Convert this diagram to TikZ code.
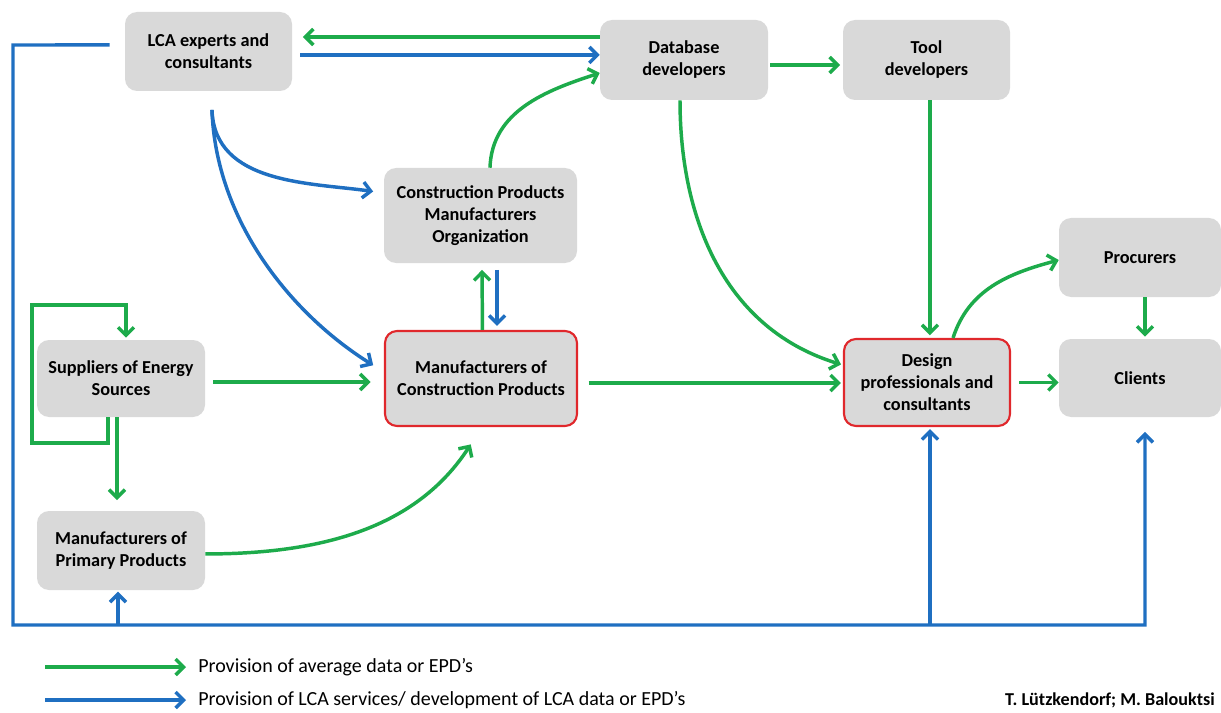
\documentclass[tikz,border=0pt]{standalone}
\usepackage{fontspec}
\setmainfont{Carlito}
\usetikzlibrary{arrows.meta}
\definecolor{flowgreen}{HTML}{1DAB4B}
\definecolor{flowblue}{HTML}{1F6FC1}
\definecolor{boxgray}{HTML}{D9D9D9}
\definecolor{keyred}{HTML}{E0282C}
\tikzset{
  box/.style={fill=boxgray, rounded corners=9pt, align=center, inner sep=0pt,
              font=\fontsize{13.7pt}{16.5pt}\selectfont\bfseries},
  keybox/.style={box, draw=keyred, line width=1.6pt},
  flow/.style={line width=2.6pt, line join=round},
  g/.style={flow, draw=flowgreen},
  b/.style={flow, draw=flowblue},
  arr/.style={-{Straight Barb[length=6pt,width=12pt]}},
  legendtext/.style={anchor=west, inner sep=0pt, font=\fontsize{15pt}{18pt}\selectfont}
}
\begin{document}
\begin{tikzpicture}[x=0.75pt, y=-0.75pt]
\useasboundingbox (0,0) rectangle (1221,713);

% actors
\node[box, minimum width=167*0.75pt, minimum height=79*0.75pt] (lca) at (208.5,51.5) {LCA experts and\\consultants};
\node[box, minimum width=168*0.75pt, minimum height=80*0.75pt] (db) at (684,60) {Database\\developers};
\node[box, minimum width=167*0.75pt, minimum height=80*0.75pt] (tool) at (926.5,60) {Tool\\developers};
\node[box, minimum width=193*0.75pt, minimum height=95*0.75pt] (cpmo) at (480.5,215.5) {Construction Products\\Manufacturers\\Organization};
\node[box, minimum width=168*0.75pt, minimum height=77*0.75pt] (sup) at (121,378.5) {Suppliers of Energy\\Sources};
\node[keybox, minimum width=192*0.75pt, minimum height=95*0.75pt] (mcp) at (481,378.5) {Manufacturers of\\Construction Products};
\node[box, minimum width=168*0.75pt, minimum height=79*0.75pt] (prim) at (121,550.5) {Manufacturers of\\Primary Products};
\node[keybox, minimum width=166*0.75pt, minimum height=87*0.75pt] (des) at (927,382.5) {Design\\professionals and\\consultants};
\node[box, minimum width=162*0.75pt, minimum height=79*0.75pt] (proc) at (1140,257.5) {Procurers};
\node[box, minimum width=162*0.75pt, minimum height=78*0.75pt] (cli) at (1140,378) {Clients};

% top row exchanges
\coordinate (g1) at ([yshift=17.25pt]db.west);
\draw[g, arr, shorten >=8pt] (g1) -- (g1 -| lca.east);
\coordinate (b1) at ([yshift=-2.6pt]lca.east);
\draw[b, arr, shorten <=6pt] (b1) -- (b1 -| db.west);
\draw[g, arr] ([xshift=7.1pt]cpmo.north) to[out=88, in=198] ([yshift=-9.75pt]db.west);
\coordinate (g2) at ([yshift=-3.75pt]db.east);
\draw[g, arr, shorten <=1.5pt, shorten >=2pt] (g2) -- (g2 -| tool.west);

% LCA services to the manufacturers
\coordinate (lb) at ([xshift=2.6pt, yshift=-14pt]lca.south);
\draw[b, arr, shorten >=8pt] (lb) to[out=-88, in=172] ([yshift=16.9pt]cpmo.west);
\draw[b, arr, shorten >=9.5pt] (lb) to[out=-88, in=148, looseness=0.9] ([yshift=4.9pt]mcp.west);

% LCA services frame along the left and bottom
\coordinate (fs) at ([xshift=-11.25pt, yshift=4.9pt]lca.west);
\coordinate (ftl) at (13,45);
\coordinate (fbl) at (13,625);
\coordinate (fbr) at (1145,625);
\coordinate (clin) at ([xshift=3.75pt]cli.south);
\draw[b, arr, line join=miter, shorten >=11pt] (fs) -- (ftl) -- (fbl) -- (fbr) -- (clin);
\draw[b, arr, shorten >=1pt] ([xshift=-2.25pt]prim.south |- fbl) -- ([xshift=-2.25pt]prim.south);
\draw[b, arr, shorten >=1.5pt] ([xshift=2.25pt]des.south |- fbl) -- ([xshift=2.25pt]des.south);

% database and tool data to design professionals
\draw[g, arr, shorten >=1.5pt] ([xshift=-3pt]db.south) to[out=-90, in=163] ([yshift=13.1pt]des.west);
\draw[g, arr, shorten >=2pt] ([xshift=2.6pt]tool.south) -- ([xshift=2.6pt]tool.south |- des.north);

% manufacturers and their organization
\draw[g, arr, shorten >=5pt] ([xshift=1.1pt]mcp.north) -- ([xshift=1.1pt]cpmo.south);
\draw[b, arr, shorten <=5pt, shorten >=3pt] ([xshift=12.4pt]cpmo.south) -- ([xshift=12.4pt]cpmo.south |- mcp.north);

% supply chain
\coordinate (s1) at ([yshift=-2.6pt]sup.east);
\draw[g, arr, shorten <=6pt, shorten >=10pt] (s1) -- (s1 -| mcp.west);
\coordinate (m1) at ([yshift=-3.4pt]mcp.east);
\draw[g, arr, shorten <=8pt, shorten >=1.5pt] (m1) -- (m1 -| des.west);
\draw[g, arr, shorten >=15.5pt] ([yshift=-2.6pt]prim.east) to[out=0, in=237] ([xshift=0.75pt]mcp.south);

% energy suppliers loop and supply of primary producers
\coordinate (ls) at ([xshift=-9.75pt]sup.south);
\coordinate (lbl) at (32,443);
\coordinate (ltr) at (126,305);
\coordinate (le) at ([xshift=3.75pt]sup.north);
\draw[g, arr, line join=miter, shorten >=1.5pt] (ls) |- (lbl) |- (ltr) -- (le);
\draw[g, arr, shorten >=8pt] ([xshift=-3pt]sup.south) -- ([xshift=-3pt]sup.south |- prim.north);

% design professionals to procurers and clients
\draw[g, arr] ([xshift=19.5pt]des.north) to[out=72, in=195] ([yshift=-1.9pt]proc.west);
\draw[g, arr, shorten >=1.5pt] ([xshift=3.75pt]proc.south) -- ([xshift=3.75pt]cli.north);
\draw[g, arr, shorten <=6pt] (des.east) -- (des.east -| cli.west);

% legend
\node[legendtext] (lgg) at (198,667) {Provision of average data or EPD’s};
\node[legendtext] (lgb) at (198,700) {Provision of LCA services/ development of LCA data or EPD’s};
\coordinate (lgs1) at (45,667);
\coordinate (lgs2) at (45,700);
\draw[g, arr, shorten >=9pt] (lgs1) -- (lgg.west);
\draw[b, arr, shorten >=9pt] (lgs2) -- (lgb.west);
\node[anchor=east, inner sep=0pt, font=\fontsize{13.6pt}{16pt}\selectfont\bfseries] (auth) at (1215,700) {T. Lützkendorf; M. Balouktsi};
\end{tikzpicture}
\end{document}
